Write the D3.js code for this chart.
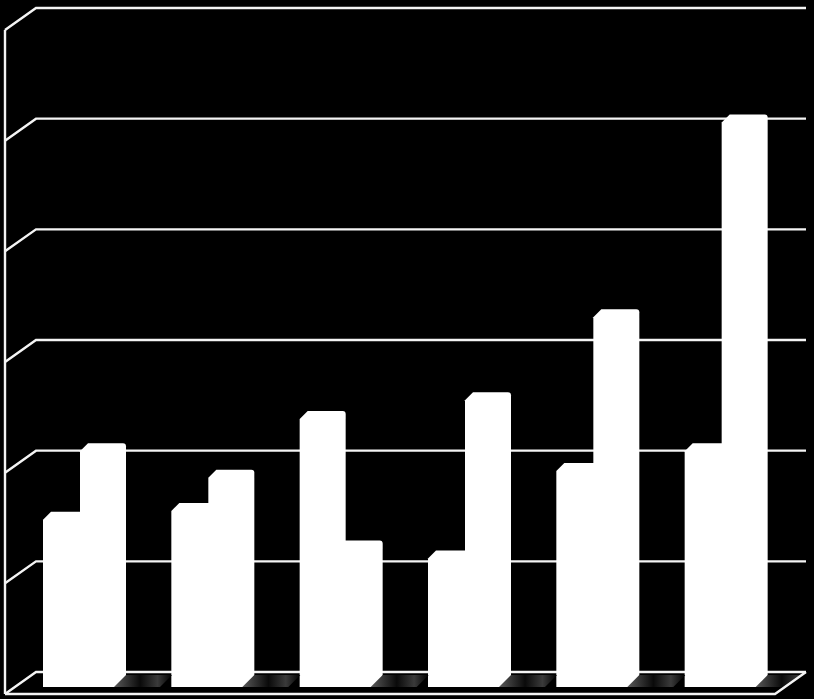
<!DOCTYPE html>
<html lang="en">
<head>
    <meta charset="UTF-8">
    <title>3D Column Chart</title>
    <script src="https://d3js.org/d3.v7.min.js"></script>
    <style>
        html, body { margin: 0; padding: 0; background: #000; }
        svg { display: block; }
    </style>
</head>
<body>
<div id="chart-container"></div>

<script>
// Data (no axis labels in the original)
var categories = ["A", "B", "C", "D", "E", "F"];
var series1 = [1.52, 1.60, 2.43, 1.17, 1.96, 2.14];
var series2 = [2.14, 1.90, 1.26, 2.60, 3.35, 5.11];
var tickValues = [0, 1, 2, 3, 4, 5, 6];

var width = 814, height = 699;

// back wall geometry and depth offset of the front edge
var wallLeft = 36, wallRight = 806;
var depthX = -31, depthY = 22;

var svg = d3.select("#chart-container").append("svg")
    .attr("width", width).attr("height", height);

svg.append("rect").attr("width", width).attr("height", height).attr("fill", "#000");

// value scale on the back wall
var yWall = d3.scaleLinear().domain([0, 6]).range([672, 8]);
// value scale on the plane where the bars stand
var yBar = d3.scaleLinear().domain([0, 6]).range([680, 16]);
var barBase = 687;

var x = d3.scaleBand().domain(categories).range([20.4, 790.4]);
var xSeries = d3.scaleBand().domain([0, 1]).range([22.6, 96.6]);
var barW = 46;

var floorPath = "M" + wallLeft + "," + yWall(0) + "L" + wallRight + "," + yWall(0) +
    "L" + (wallRight + depthX) + "," + (yWall(0) + depthY) +
    "L" + (wallLeft + depthX) + "," + (yWall(0) + depthY) + "Z";

var defs = svg.append("defs");
defs.append("clipPath").attr("id", "floorClip").append("path").attr("d", floorPath);
var grad = defs.append("linearGradient").attr("id", "shadow")
    .attr("x1", "0%").attr("x2", "100%").attr("y1", "0%").attr("y2", "0%");
grad.append("stop").attr("offset", "0%").attr("stop-color", "#5a5a5a");
grad.append("stop").attr("offset", "45%").attr("stop-color", "#0a0a0a");
grad.append("stop").attr("offset", "75%").attr("stop-color", "#3a3a3a");
grad.append("stop").attr("offset", "100%").attr("stop-color", "#000");

var lineColor = "#f4f4f4";

// gridlines: back wall lines plus left wall diagonals
var grid = svg.append("g")
    .attr("stroke", lineColor).attr("stroke-width", 2.4).attr("fill", "none");

grid.selectAll("path.grid")
    .data(tickValues)
    .enter().append("path")
    .attr("class", "grid")
    .attr("d", function(v) {
        var y = yWall(v);
        return "M" + (wallLeft + depthX) + "," + (y + depthY) + "L" + wallLeft + "," + y +
            "L" + wallRight + "," + y;
    });

// left wall front edge
grid.append("line")
    .attr("x1", wallLeft + depthX).attr("x2", wallLeft + depthX)
    .attr("y1", yWall(6) + depthY).attr("y2", yWall(0) + depthY);

// bars
function barPath(x0, v) {
    var top = yBar(v), c = 8, r = 3, x1 = x0 + barW;
    return "M" + x0 + "," + barBase +
        "L" + x0 + "," + (top + c) +
        "L" + (x0 + c) + "," + top +
        "L" + (x1 - r) + "," + top +
        "Q" + x1 + "," + top + " " + x1 + "," + (top + r) +
        "L" + x1 + "," + barBase + "Z";
}

var barData = [];
categories.forEach(function(c, i) {
    barData.push({cat: c, s: 1, v: series2[i]});
    barData.push({cat: c, s: 0, v: series1[i]});
});

svg.append("g").selectAll("path.bar")
    .data(barData)
    .enter().append("path")
    .attr("class", "bar")
    .attr("fill", "#fff")
    .attr("d", function(d) { return barPath(x(d.cat) + xSeries(d.s), d.v); });

// floor shadows cast to the right of each cluster (drawn over the bar foot)
svg.append("g").attr("clip-path", "url(#floorClip)")
    .selectAll("path.shadow")
    .data(categories)
    .enter().append("path")
    .attr("class", "shadow")
    .attr("fill", "url(#shadow)")
    .attr("d", function(d) {
        var x0 = x(d) + xSeries(1) + barW - 12;
        var x1 = x0 + 58;
        return "M" + x0 + "," + barBase + "L" + (x0 + 12) + "," + (barBase - 12) +
            "L" + x1 + "," + (barBase - 12) + "L" + (x1 - 12) + "," + barBase + "Z";
    });

// floor front and right edges
svg.append("path")
    .attr("fill", "none").attr("stroke", lineColor).attr("stroke-width", 2.4)
    .attr("d", "M" + (wallLeft + depthX) + "," + (yWall(0) + depthY) +
        "L" + (wallRight + depthX) + "," + (yWall(0) + depthY) +
        "L" + wallRight + "," + yWall(0));
</script>
</body>
</html>
